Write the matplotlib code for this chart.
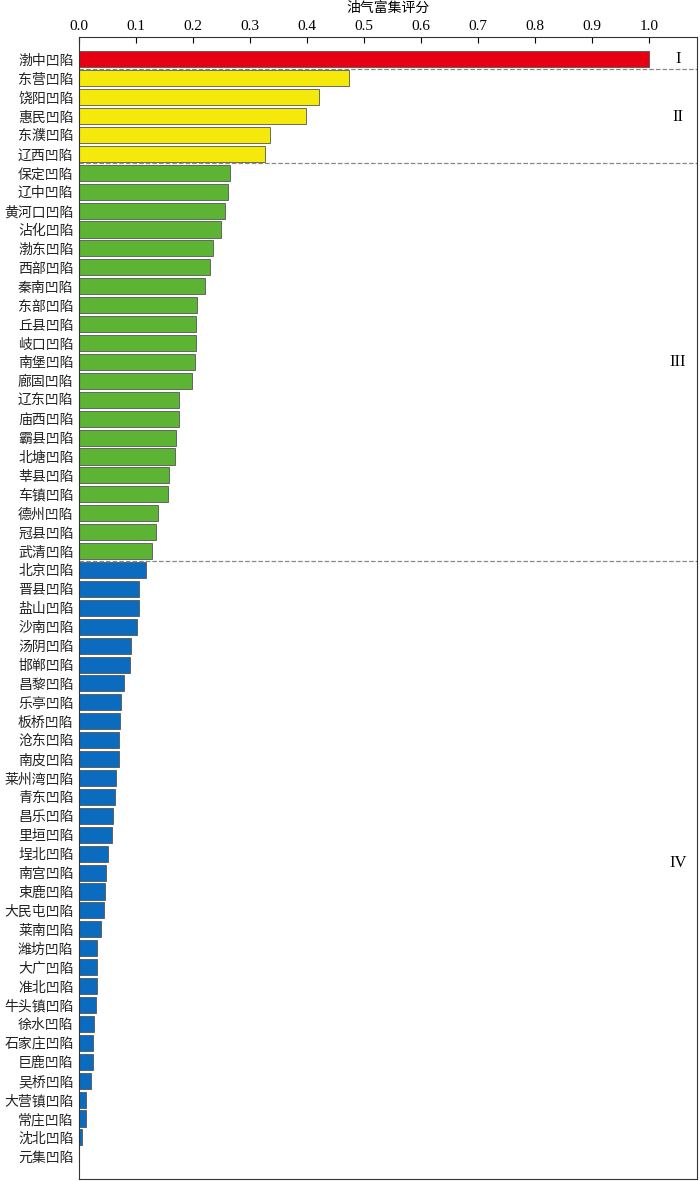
import matplotlib
matplotlib.use('Agg')
import matplotlib.pyplot as plt

plt.rcParams['font.family'] = ['Noto Sans CJK SC', 'DejaVu Sans']

names = ['渤中凹陷', '东营凹陷', '饶阳凹陷', '惠民凹陷', '东濮凹陷', '辽西凹陷',
         '保定凹陷', '辽中凹陷', '黄河口凹陷', '沾化凹陷', '渤东凹陷', '西部凹陷',
         '秦南凹陷', '东部凹陷', '丘县凹陷', '岐口凹陷', '南堡凹陷', '廊固凹陷',
         '辽东凹陷', '庙西凹陷', '霸县凹陷', '北塘凹陷', '莘县凹陷', '车镇凹陷',
         '德州凹陷', '冠县凹陷', '武清凹陷',
         '北京凹陷', '晋县凹陷', '盐山凹陷', '沙南凹陷', '汤阴凹陷', '邯郸凹陷',
         '昌黎凹陷', '乐亭凹陷', '板桥凹陷', '沧东凹陷', '南皮凹陷', '莱州湾凹陷',
         '青东凹陷', '昌乐凹陷', '里垣凹陷', '埕北凹陷', '南宫凹陷', '束鹿凹陷',
         '大民屯凹陷', '莱南凹陷', '潍坊凹陷', '大广凹陷', '准北凹陷', '牛头镇凹陷',
         '徐水凹陷', '石家庄凹陷', '巨鹿凹陷', '吴桥凹陷', '大营镇凹陷', '常庄凹陷',
         '沈北凹陷', '元集凹陷']
scores = [1.0, 0.474, 0.421, 0.398, 0.335, 0.326,
          0.265, 0.261, 0.256, 0.249, 0.235, 0.230, 0.221, 0.207, 0.205, 0.205,
          0.204, 0.198, 0.175, 0.175, 0.170, 0.168, 0.158, 0.156, 0.139, 0.135, 0.128,
          0.117, 0.105, 0.105, 0.102, 0.091, 0.089, 0.079, 0.074, 0.072, 0.070,
          0.070, 0.065, 0.063, 0.060, 0.058, 0.051, 0.047, 0.046, 0.044, 0.039,
          0.032, 0.032, 0.032, 0.030, 0.026, 0.025, 0.025, 0.021, 0.012, 0.012,
          0.005, 0.0]
group_sizes = [1, 5, 21, 32]
group_colors = ['#e60012', '#f5e90c', '#5db333', '#0b6cbf']
group_labels = ['I', 'II', 'III', 'IV']

colors = []
for n, c in zip(group_sizes, group_colors):
    colors += [c] * n

fig = plt.figure(figsize=(7, 11.81), dpi=100)
ax = fig.add_axes([0.113, 0.002, 0.883, 0.9667])
y = range(len(names))
ax.barh(y, scores, height=0.85, color=colors, edgecolor='#555555', linewidth=0.6)

ax.set_ylim(len(names) - 1 + 1.18, -1.18)
ax.set_xlim(0, 1.084)
ax.set_yticks(list(y))
ax.set_yticklabels(names, fontsize=10, color='#222222')
ax.tick_params(axis='y', length=0, pad=4)
ax.xaxis.tick_top()
ax.xaxis.set_label_position('top')
ax.set_xticks([i / 10 for i in range(11)])
ax.set_xticklabels(['%.1f' % (i / 10) for i in range(11)],
                   fontfamily='Liberation Serif', fontsize=11)
ax.tick_params(axis='x', direction='in', length=4, pad=3)
ax.set_xlabel('油气富集评分', fontsize=10, labelpad=6)
for s in ax.spines.values():
    s.set_color('#333333')

start = 0
for n, lab in zip(group_sizes, group_labels):
    mid = start + (n - 1) / 2
    if lab == 'II':
        mid = start + 2.06
    ax.text(1.05, mid, lab, fontfamily='Liberation Serif', fontsize=12,
            ha='center', va='center')
    start += n
    if start < len(names):
        ax.axhline(start - 0.5, color='#888888', linestyle='--', linewidth=0.9)

fig.savefig('out.png', dpi=100)
